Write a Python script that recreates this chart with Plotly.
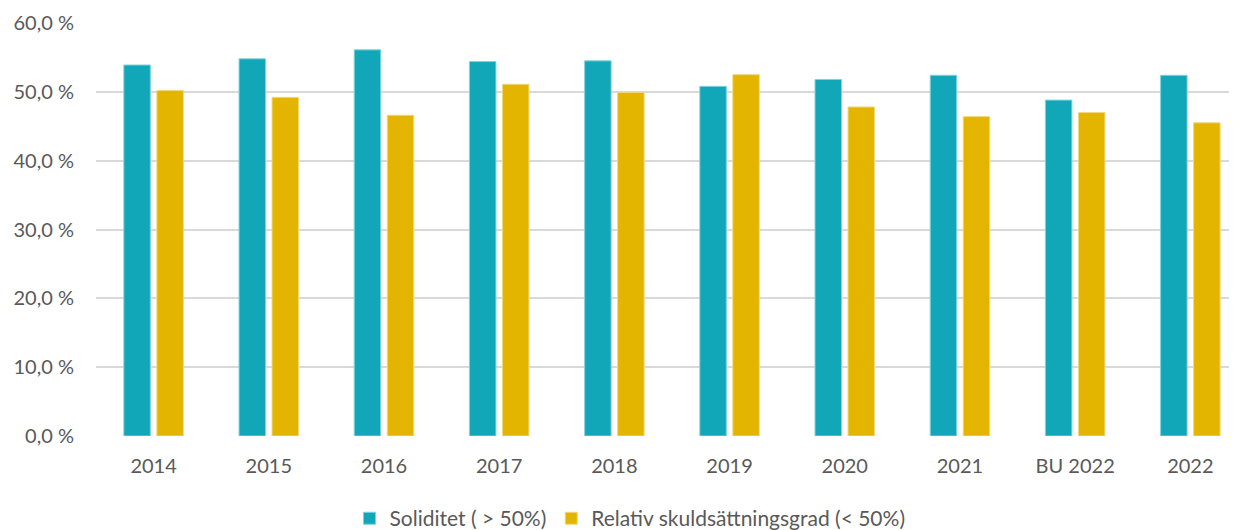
import plotly.graph_objects as go

categories = ["2014", "2015", "2016", "2017", "2018", "2019", "2020", "2021", "BU 2022", "2022"]
soliditet = [53.9, 54.8, 56.1, 54.4, 54.5, 50.8, 51.8, 52.4, 48.8, 52.4]
skuld = [50.2, 49.2, 46.6, 51.1, 49.9, 52.5, 47.8, 46.4, 47.0, 45.5]
y_tickvals = [0, 10, 20, 30, 40, 50, 60]
y_ticktext = ["0,0 %", "10,0 %", "20,0 %", "30,0 %", "40,0 %", "50,0 %", "60,0 %"]

font_family = "Lato, 'Open Sans', sans-serif"

fig = go.Figure()
fig.add_trace(go.Bar(x=categories, y=soliditet, name="Soliditet ( > 50%)",
                     marker=dict(color="#12A7B8", line=dict(color="#7FD3DC", width=1))))
fig.add_trace(go.Bar(x=categories, y=skuld, name="Relativ skuldsättningsgrad (< 50%)",
                     marker=dict(color="#E3B400", line=dict(color="#F2D97A", width=1))))

fig.update_layout(
    width=1229, height=522,
    margin=dict(l=88, r=0, t=15, b=94, autoexpand=False),
    paper_bgcolor="white", plot_bgcolor="white",
    barmode="group", bargap=0.427, bargroupgap=0.197,
    font=dict(family=font_family, size=20, color="#595959"),
    showlegend=True,
    legend=dict(orientation="h", x=0.468, xanchor="center", y=-0.2, yanchor="middle",
                font=dict(size=21, color="#595959"), itemwidth=30, traceorder="normal"),
    xaxis=dict(type="category", range=[-0.5, 9.405], showgrid=False, zeroline=False,
               showline=False, ticks="outside", ticklen=12, tickcolor="rgba(0,0,0,0)",
               automargin=False, tickfont=dict(size=20, color="#595959")),
    yaxis=dict(range=[0, 60], tickvals=y_tickvals, ticktext=y_ticktext,
               showgrid=True, gridcolor="#D9D9D9", gridwidth=1.5, zeroline=False,
               showline=False, ticks="outside", ticklen=17, tickcolor="rgba(0,0,0,0)",
               automargin=False, tickfont=dict(size=20, color="#595959")),
)

fig.write_html("out.html")
